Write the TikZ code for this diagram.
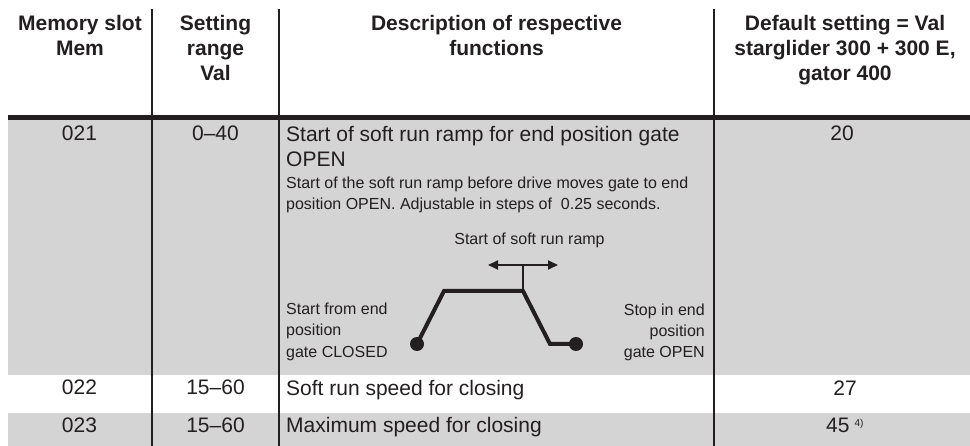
\documentclass[tikz,border=0pt]{standalone}
\usepackage{fontspec}
\setmainfont{Liberation Sans}
\usetikzlibrary{arrows.meta}
\definecolor{ink}{HTML}{231F20}
\definecolor{rowgray}{HTML}{D4D4D4}
\tikzset{
  hdr/.style={font=\fontsize{21}{25}\selectfont\bfseries, inner sep=0pt, anchor=base, text=ink},
  bodytxt/.style={font=\fontsize{21}{25}\selectfont, inner sep=0pt, anchor=base, text=ink},
  smalltxt/.style={font=\fontsize{16}{21}\selectfont, inner sep=0pt, anchor=base west, text=ink},
  rule/.style={draw=ink, line width=2pt},
  profile/.style={draw=ink, line width=4pt},
  dot/.style={circle, fill=ink, inner sep=0pt, minimum size=14pt},
}
\begin{document}
\begin{tikzpicture}[x=1pt,y=-1pt]
\useasboundingbox (0,0) rectangle (970,446);
% row backgrounds
\fill[rowgray] (8,120) rectangle (970,375);
\fill[rowgray] (8,413) rectangle (970,446);
% rules
\draw[draw=ink, line width=4.5pt] (8,117.5) -- (970,117.5);
\draw[rule] (152,9) -- (152,446);
\draw[rule] (279,9) -- (279,446);
\draw[rule] (714,9) -- (714,446);
% header
\node[hdr] (h1a) at (80,31) {Memory slot};
\node[hdr] (h1b) at (80,56) {Mem};
\node[hdr] (h2a) at (215.5,31) {Setting};
\node[hdr] (h2b) at (215.5,56) {range};
\node[hdr] (h2c) at (215.5,81) {Val};
\node[hdr] (h3a) at (496.5,31) {Description of respective};
\node[hdr] (h3b) at (496.5,56) {functions};
\node[hdr] (h4a) at (845,31) {Default setting = Val};
\node[hdr] (h4b) at (845,56) {starglider 300 + 300 E,};
\node[hdr] (h4c) at (845,81) {gator 400};
% row 021
\node[bodytxt] (m1) at (79.5,141) {021};
\node[bodytxt] (v1) at (215.5,141) {0--40};
\node[bodytxt, anchor=base west] (d1a) at (286,142) {Start of soft run ramp for end position gate};
\node[bodytxt, anchor=base west] (d1b) at (286,167) {OPEN};
\node[smalltxt] (s1a) at (286,189) {Start of the soft run ramp before drive moves gate to end};
\node[smalltxt] (s1b) at (286,210) {position OPEN. Adjustable in steps of\ \ 0.25 seconds.};
\node[bodytxt] (f1) at (842,141) {20};
% diagram
\node[smalltxt, anchor=base] (ramplbl) at (529.5,245) {Start of soft run ramp};
\node[smalltxt] (l1) at (286,315) {Start from end};
\node[smalltxt] (l2) at (286,336) {position};
\node[smalltxt] (l3) at (286,358) {gate CLOSED};
\node[smalltxt, anchor=base east] (r1) at (705,316) {Stop in end};
\node[smalltxt, anchor=base east] (r2) at (705,337) {position};
\node[smalltxt, anchor=base east] (r3) at (705,358) {gate OPEN};
\coordinate (pa) at (417,344);
\coordinate (pb) at (444,291);
\coordinate (pc) at (523,291);
\coordinate (pd) at (550,344);
\coordinate (pe) at (576,344);
\coordinate (tk) at (523,265);
\coordinate (al) at (488,265);
\coordinate (ar) at (558,265);
\draw[profile] (pa) -- (pb) -- (pc) -- (pd) -- (pe);
\node[dot] (dl) at (pa) {};
\node[dot] (dr) at (pe) {};
\draw[rule] (pc) -- (tk);
\draw[rule, {Triangle[length=10pt,width=9pt]}-{Triangle[length=10pt,width=9pt]}] (al) -- (ar);
% row 022
\node[bodytxt] (m2) at (79.5,395) {022};
\node[bodytxt] (v2) at (215.5,395) {15--60};
\node[bodytxt, anchor=base west] (d2) at (286,396) {Soft run speed for closing};
\node[bodytxt] (f2) at (845,396) {27};
% row 023
\node[bodytxt] (m3) at (79.5,432) {023};
\node[bodytxt] (v3) at (215.5,432) {15--60};
\node[bodytxt, anchor=base west] (d3) at (286,433) {Maximum speed for closing};
\node[bodytxt, anchor=base west] (f3) at (826,433) {45\hspace{5pt}\raisebox{6pt}{\fontsize{10}{12}\selectfont 4)}};
\end{tikzpicture}
\end{document}
